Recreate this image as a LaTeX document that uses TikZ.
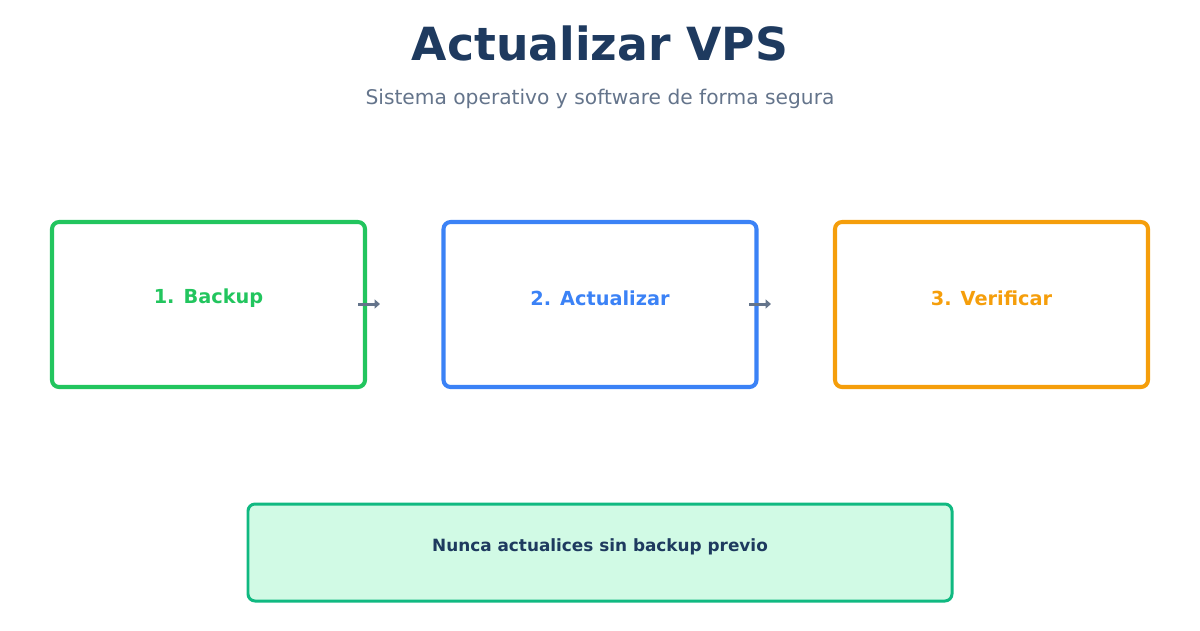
\documentclass[tikz,border=0pt]{standalone}
\usepackage{fontspec}
\setmainfont{DejaVu Sans}
\usetikzlibrary{arrows.meta}
\definecolor{cgreen}{HTML}{22C55E}
\definecolor{cblue}{HTML}{3B82F6}
\definecolor{corange}{HTML}{F59E0B}
\definecolor{navy}{HTML}{1E3A5F}
\definecolor{slate}{HTML}{64748B}
\definecolor{mint}{HTML}{D1FAE5}
\definecolor{emer}{HTML}{10B981}
\begin{document}
\begin{tikzpicture}[x=0.02cm,y=-0.02cm,
  stepbox/.style={draw=#1,line width=2.3pt,rounded corners=4pt,minimum width=313*0.02cm,minimum height=165*0.02cm,text=#1,font=\bfseries\fontsize{11}{13}\selectfont},
  arr/.style={draw=slate,line width=1.7pt,-{Triangle[length=3pt,width=5pt]}}]
\useasboundingbox (0,0) rectangle (1200,630);
\node[font=\bfseries\fontsize{26}{30}\selectfont,text=navy] (title) at (600,43) {Actualizar VPS};
\node[font=\fontsize{11.5}{14}\selectfont,text=slate] (sub) at (600,99) {Sistema operativo y software de forma segura};
\node[stepbox=cgreen] (b1) at (208.5,304.5) {};
\node[stepbox=cblue] (b2) at (600,304.5) {};
\node[stepbox=corange] (b3) at (991.5,304.5) {};
\node[text=cgreen,font=\bfseries\fontsize{11}{13}\selectfont] (l1) at (208.5,298) {1. Backup};
\node[text=cblue,font=\bfseries\fontsize{11}{13}\selectfont] (l2) at (600,298) {2. Actualizar};
\node[text=corange,font=\bfseries\fontsize{11}{13}\selectfont] (l3) at (991.5,298) {3. Verificar};
\coordinate (a1s) at (358,304); \coordinate (a1e) at (380,304);
\coordinate (a2s) at (749,304); \coordinate (a2e) at (771,304);
\draw[arr] (a1s) -- (a1e);
\draw[arr] (a2s) -- (a2e);
\node[draw=emer,fill=mint,line width=1.7pt,rounded corners=4pt,minimum width=704*0.02cm,minimum height=97*0.02cm] (note) at (600,552.5) {};
\node[text=navy,font=\bfseries\fontsize{9.6}{12}\selectfont] (nt) at (600,547) {Nunca actualices sin backup previo};
\end{tikzpicture}
\end{document}
